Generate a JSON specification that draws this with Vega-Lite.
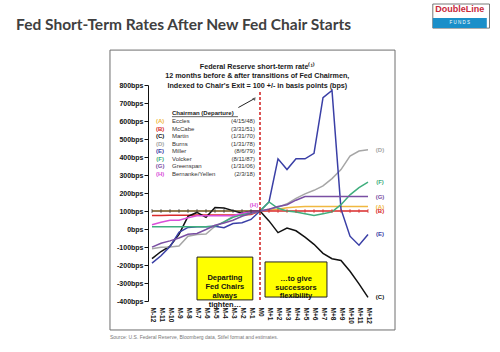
{
  "$schema": "https://vega.github.io/schema/vega-lite/v6.json",
  "width": 216,
  "height": 216,
  "autosize": {"type": "none"},
  "padding": {"left": 152, "top": 85, "right": 132, "bottom": 51},
  "background": "white",
  "config": {
    "view": {"stroke": null},
    "font": "Liberation Sans",
    "axis": {"zindex": 1, "grid": false, "title": null},
    "axisX": {"tickCount": 50, "offset": 5, "domain": false, "ticks": false, "labelAngle": 90, "labelAlign": "left", "labelBaseline": "middle", "labelFontSize": 6.5, "labelFontWeight": "bold", "labelColor": "#111", "labelPadding": 1, "labelOverlap": false, "labelBound": false, "labelFlush": false},
    "axisY": {"tickCount": 50, "offset": 4, "labelFontSize": 7, "labelFontWeight": "bold", "labelColor": "#111", "domainColor": "#111", "tickColor": "#111", "tickSize": 4, "labelPadding": 1, "labelOverlap": false}
  },
  "datasets": {
    "series": [
      {"c":"A","m":-12,"v":100},{"c":"A","m":-11,"v":100},{"c":"A","m":-10,"v":100},{"c":"A","m":-9,"v":100},{"c":"A","m":-8,"v":100},{"c":"A","m":-7,"v":100},{"c":"A","m":-6,"v":100},{"c":"A","m":-5,"v":100},{"c":"A","m":-4,"v":100},{"c":"A","m":-3,"v":100},{"c":"A","m":-2,"v":100},{"c":"A","m":-1,"v":100},{"c":"A","m":0,"v":100},
      {"c":"A","m":1,"v":105},{"c":"A","m":2,"v":110},{"c":"A","m":3,"v":118},{"c":"A","m":4,"v":122},{"c":"A","m":5,"v":125},{"c":"A","m":6,"v":125},{"c":"A","m":7,"v":125},{"c":"A","m":8,"v":125},{"c":"A","m":9,"v":125},{"c":"A","m":10,"v":125},{"c":"A","m":11,"v":125},{"c":"A","m":12,"v":125},
      {"c":"B","m":-12,"v":75},{"c":"B","m":-11,"v":75},{"c":"B","m":-10,"v":76},{"c":"B","m":-9,"v":76},{"c":"B","m":-8,"v":77},{"c":"B","m":-7,"v":78},{"c":"B","m":-6,"v":78},{"c":"B","m":-5,"v":78},{"c":"B","m":-4,"v":78},{"c":"B","m":-3,"v":78},{"c":"B","m":-2,"v":78},{"c":"B","m":-1,"v":80},{"c":"B","m":0,"v":100},
      {"c":"B","m":1,"v":100},{"c":"B","m":2,"v":100},{"c":"B","m":3,"v":100},{"c":"B","m":4,"v":100},{"c":"B","m":5,"v":100},{"c":"B","m":6,"v":100},{"c":"B","m":7,"v":100},{"c":"B","m":8,"v":100},{"c":"B","m":9,"v":100},{"c":"B","m":10,"v":100},{"c":"B","m":11,"v":100},{"c":"B","m":12,"v":100},
      {"c":"C","m":-12,"v":-165},{"c":"C","m":-11,"v":-125},{"c":"C","m":-10,"v":-95},{"c":"C","m":-9,"v":-30},{"c":"C","m":-8,"v":70},{"c":"C","m":-7,"v":92},{"c":"C","m":-6,"v":65},{"c":"C","m":-5,"v":120},{"c":"C","m":-4,"v":117},{"c":"C","m":-3,"v":102},{"c":"C","m":-2,"v":88},{"c":"C","m":-1,"v":98},{"c":"C","m":0,"v":100},
      {"c":"C","m":1,"v":45},{"c":"C","m":2,"v":-20},{"c":"C","m":3,"v":5},{"c":"C","m":4,"v":-10},{"c":"C","m":5,"v":-45},{"c":"C","m":6,"v":-85},{"c":"C","m":7,"v":-135},{"c":"C","m":8,"v":-165},{"c":"C","m":9,"v":-175},{"c":"C","m":10,"v":-235},{"c":"C","m":11,"v":-305},{"c":"C","m":12,"v":-380},
      {"c":"D","m":-12,"v":-110},{"c":"D","m":-11,"v":-102},{"c":"D","m":-10,"v":-100},{"c":"D","m":-9,"v":-95},{"c":"D","m":-8,"v":-40},{"c":"D","m":-7,"v":-30},{"c":"D","m":-6,"v":-28},{"c":"D","m":-5,"v":15},{"c":"D","m":-4,"v":40},{"c":"D","m":-3,"v":70},{"c":"D","m":-2,"v":80},{"c":"D","m":-1,"v":86},{"c":"D","m":0,"v":100},
      {"c":"D","m":1,"v":110},{"c":"D","m":2,"v":120},{"c":"D","m":3,"v":140},{"c":"D","m":4,"v":170},{"c":"D","m":5,"v":195},{"c":"D","m":6,"v":215},{"c":"D","m":7,"v":240},{"c":"D","m":8,"v":280},{"c":"D","m":9,"v":330},{"c":"D","m":10,"v":405},{"c":"D","m":11,"v":433},{"c":"D","m":12,"v":440},
      {"c":"E","m":-12,"v":-190},{"c":"E","m":-11,"v":-149},{"c":"E","m":-10,"v":-98},{"c":"E","m":-9,"v":-18},{"c":"E","m":-8,"v":9},{"c":"E","m":-7,"v":13},{"c":"E","m":-6,"v":12},{"c":"E","m":-5,"v":15},{"c":"E","m":-4,"v":7},{"c":"E","m":-3,"v":30},{"c":"E","m":-2,"v":35},{"c":"E","m":-1,"v":53},{"c":"E","m":0,"v":100},
      {"c":"E","m":1,"v":150},{"c":"E","m":2,"v":390},{"c":"E","m":3,"v":330},{"c":"E","m":4,"v":390},{"c":"E","m":5,"v":390},{"c":"E","m":6,"v":420},{"c":"E","m":7,"v":730},{"c":"E","m":8,"v":770},{"c":"E","m":9,"v":110},{"c":"E","m":10,"v":-40},{"c":"E","m":11,"v":-90},{"c":"E","m":12,"v":-30},
      {"c":"F","m":-12,"v":12},{"c":"F","m":-11,"v":12},{"c":"F","m":-10,"v":12},{"c":"F","m":-9,"v":12},{"c":"F","m":-8,"v":12},{"c":"F","m":-7,"v":12},{"c":"F","m":-6,"v":12},{"c":"F","m":-5,"v":15},{"c":"F","m":-4,"v":40},{"c":"F","m":-3,"v":65},{"c":"F","m":-2,"v":80},{"c":"F","m":-1,"v":90},{"c":"F","m":0,"v":100},
      {"c":"F","m":1,"v":150},{"c":"F","m":2,"v":115},{"c":"F","m":3,"v":100},{"c":"F","m":4,"v":95},{"c":"F","m":5,"v":85},{"c":"F","m":6,"v":75},{"c":"F","m":7,"v":85},{"c":"F","m":8,"v":95},{"c":"F","m":9,"v":135},{"c":"F","m":10,"v":190},{"c":"F","m":11,"v":230},{"c":"F","m":12,"v":260},
      {"c":"G","m":-12,"v":-101},{"c":"G","m":-11,"v":-79},{"c":"G","m":-10,"v":-66},{"c":"G","m":-9,"v":-50},{"c":"G","m":-8,"v":-29},{"c":"G","m":-7,"v":-25},{"c":"G","m":-6,"v":-3},{"c":"G","m":-5,"v":21},{"c":"G","m":-4,"v":33},{"c":"G","m":-3,"v":49},{"c":"G","m":-2,"v":71},{"c":"G","m":-1,"v":87},{"c":"G","m":0,"v":100},
      {"c":"G","m":1,"v":110},{"c":"G","m":2,"v":125},{"c":"G","m":3,"v":135},{"c":"G","m":4,"v":160},{"c":"G","m":5,"v":180},{"c":"G","m":6,"v":180},{"c":"G","m":7,"v":180},{"c":"G","m":8,"v":180},{"c":"G","m":9,"v":180},{"c":"G","m":10,"v":180},{"c":"G","m":11,"v":180},{"c":"G","m":12,"v":180},
      {"c":"H","m":-12,"v":24},{"c":"H","m":-11,"v":37},{"c":"H","m":-10,"v":48},{"c":"H","m":-9,"v":49},{"c":"H","m":-8,"v":62},{"c":"H","m":-7,"v":73},{"c":"H","m":-6,"v":74},{"c":"H","m":-5,"v":73},{"c":"H","m":-4,"v":73},{"c":"H","m":-3,"v":74},{"c":"H","m":-2,"v":88},{"c":"H","m":-1,"v":99},{"c":"H","m":0,"v":100}
    ],
    "chairs": [
      {"c":"A","n":"Eccles","d":"(4/15/48)","o":0},
      {"c":"B","n":"McCabe","d":"(3/31/51)","o":1},
      {"c":"C","n":"Martin","d":"(1/31/70)","o":2},
      {"c":"D","n":"Burns","d":"(1/31/78)","o":3},
      {"c":"E","n":"Miller","d":"(8/6/79)","o":4},
      {"c":"F","n":"Volcker","d":"(8/11/87)","o":5},
      {"c":"G","n":"Greenspan","d":"(1/31/06)","o":6},
      {"c":"H","n":"Bernanke/Yellen","d":"(2/3/18)","o":7}
    ]
  },
  "layer": [
    {
      "data": {"name": "series"},
      "mark": {"type": "line", "strokeWidth": 1.5},
      "encoding": {
        "x": {"field": "m", "type": "quantitative", "scale": {"domain": [-12, 12], "nice": false, "zero": false},
          "axis": {"orient": "bottom", "tickCount": 50, "values": [-12,-11,-10,-9,-8,-7,-6,-5,-4,-3,-2,-1,0,1,2,3,4,5,6,7,8,9,10,11,12],
            "labelExpr": "datum.value == 0 ? 'M0' : (datum.value > 0 ? 'M+' + datum.value : 'M' + datum.value)"}},
        "y": {"field": "v", "type": "quantitative", "scale": {"domain": [-400, 800], "nice": false, "zero": false},
          "axis": {"tickCount": 50, "values": [-400,-300,-200,-100,0,100,200,300,400,500,600,700,800], "labelExpr": "datum.value + 'bps'"}},
        "color": {"field": "c", "type": "nominal", "legend": null,
          "scale": {"domain": ["A","B","C","D","E","F","G","H"], "range": ["#f0b840","#d92b2b","#111111","#a6a6a6","#3a3fa6","#3fae7d","#7a4fa3","#d94fd9"]}}
      }
    },
    {
      "data": {"values": [{}]},
      "mark": {"type": "rect", "fill": "transparent", "stroke": "#6e6e6e", "strokeWidth": 1},
      "encoding": {"x": {"datum": -16.67}, "x2": {"datum": 15}, "y": {"datum": 994}, "y2": {"datum": -561}}
    },
    {
      "data": {"values": [{}]},
      "mark": {"type": "rect", "fill": "#ffff00", "stroke": "#222", "strokeWidth": 1},
      "encoding": {"x": {"datum": -7}, "x2": {"datum": -0.8}, "y": {"datum": -156}, "y2": {"datum": -394}}
    },
    {
      "data": {"values": [{}]},
      "mark": {"type": "rect", "fill": "#ffff00", "stroke": "#222", "strokeWidth": 1},
      "encoding": {"x": {"datum": 0.56}, "x2": {"datum": 7.44}, "y": {"datum": -183}, "y2": {"datum": -378}}
    },
    {
      "data": {"values": [{}]},
      "mark": {"type": "text", "text": ["Departing", "Fed Chairs", "always", "tighten…"], "lineHeight": 9, "fontSize": 7.5, "fontWeight": "bold", "align": "center", "baseline": "middle", "color": "#111"},
      "encoding": {"x": {"datum": -3.9}, "y": {"datum": -272}}
    },
    {
      "data": {"values": [{}]},
      "mark": {"type": "text", "text": ["…to give", "successors", "flexibility"], "lineHeight": 8.7, "fontSize": 7.5, "fontWeight": "bold", "align": "center", "baseline": "middle", "color": "#111"},
      "encoding": {"x": {"datum": 4}, "y": {"datum": -278}}
    },
    {
      "data": {"values": [{}]},
      "mark": {"type": "rule", "color": "#d42a2a", "strokeWidth": 1.6, "strokeDash": [3, 2]},
      "encoding": {"x": {"datum": 0}, "y": {"datum": 761}, "y2": {"datum": -400}}
    },
    {
      "data": {"values": [{}]},
      "mark": {"type": "rule", "color": "#333", "strokeWidth": 1.2},
      "encoding": {"x": {"datum": -12}, "x2": {"datum": 0}, "y": {"datum": 100}}
    },
    {
      "data": {"name": "series"},
      "transform": [{"filter": "datum.c == 'B'"}],
      "mark": {"type": "tick", "orient": "vertical", "size": 4, "thickness": 1},
      "encoding": {
        "x": {"field": "m", "type": "quantitative"},
        "y": {"datum": 100},
        "color": {"condition": {"test": "datum.m <= 0", "value": "#333"}, "value": "#d92b2b"}
      }
    },
    {
      "data": {"name": "series"},
      "transform": [{"filter": "datum.m == 12"}, {"calculate": "'(' + datum.c + ')'", "as": "lbl"}],
      "mark": {"type": "text", "dx": 12, "fontSize": 6, "fontWeight": "bold", "align": "center", "baseline": "middle"},
      "encoding": {
        "x": {"field": "m", "type": "quantitative"},
        "y": {"field": "v", "type": "quantitative"},
        "text": {"field": "lbl"},
        "color": {"field": "c", "type": "nominal", "legend": null}
      }
    },
    {
      "data": {"name": "series"},
      "transform": [{"filter": "datum.c == 'H' && datum.m == 0"}, {"calculate": "'(' + datum.c + ')'", "as": "lbl"}],
      "mark": {"type": "text", "dx": -6, "dy": -6, "fontSize": 6, "fontWeight": "bold", "align": "center", "baseline": "middle"},
      "encoding": {
        "x": {"field": "m", "type": "quantitative"},
        "y": {"field": "v", "type": "quantitative"},
        "text": {"field": "lbl"},
        "color": {"field": "c", "type": "nominal", "legend": null}
      }
    },
    {
      "data": {"values": [{}]},
      "mark": {"type": "text", "text": "Chairman (Departure)", "fontSize": 6, "fontWeight": "bold", "align": "left", "baseline": "middle", "color": "#222"},
      "encoding": {"x": {"datum": -9.78}, "y": {"datum": 644}}
    },
    {
      "data": {"values": [{}]},
      "mark": {"type": "rule", "color": "#222", "strokeWidth": 0.7},
      "encoding": {"x": {"datum": -9.78}, "x2": {"datum": -2.45}, "y": {"datum": 624}}
    },
    {
      "data": {"name": "chairs"},
      "transform": [{"calculate": "600 - 42 * datum.o", "as": "ly"}, {"calculate": "'(' + datum.c + ')'", "as": "lbl"}],
      "layer": [
        {
          "mark": {"type": "text", "fontSize": 6, "fontWeight": "bold", "align": "center", "baseline": "middle"},
          "encoding": {"x": {"datum": -11.1}, "y": {"field": "ly", "type": "quantitative"}, "text": {"field": "lbl"}, "color": {"field": "c", "type": "nominal", "legend": null}}
        },
        {
          "mark": {"type": "text", "fontSize": 6, "align": "left", "baseline": "middle", "color": "#333"},
          "encoding": {"x": {"datum": -9.78}, "y": {"field": "ly", "type": "quantitative"}, "text": {"field": "n"}}
        },
        {
          "mark": {"type": "text", "fontSize": 6, "align": "right", "baseline": "middle", "color": "#333"},
          "encoding": {"x": {"datum": -0.56}, "y": {"field": "ly", "type": "quantitative"}, "text": {"field": "d"}}
        }
      ]
    },
    {
      "data": {"values": [{}]},
      "mark": {"type": "text", "text": ["Federal Reserve short-term rate⁽¹⁾", "12 months before & after transitions of Fed Chairmen,", "Indexed to Chair's Exit = 100 +/- in basis points (bps)"], "lineHeight": 9.3, "fontSize": 7.2, "fontWeight": "bold", "align": "center", "baseline": "middle", "color": "#1a1a1a"},
      "encoding": {"x": {"datum": -0.3}, "y": {"datum": 900}}
    },
    {
      "data": {"values": [{}]},
      "mark": {"type": "rule", "color": "#222", "strokeWidth": 1},
      "encoding": {"x": {"datum": -2.4}, "x2": {"datum": -0.7}, "y": {"datum": 675}, "y2": {"datum": 722}}
    },
    {
      "data": {"values": [{}]},
      "mark": {"type": "point", "shape": "triangle-up", "size": 14, "filled": true, "color": "#222", "angle": 40},
      "encoding": {"x": {"datum": -0.6}, "y": {"datum": 725}}
    },
    {
      "data": {"values": [{}]},
      "mark": {"type": "text", "text": "Source: U.S. Federal Reserve, Bloomberg data, Stifel format and estimates.", "fontSize": 5, "align": "left", "baseline": "middle", "color": "#777"},
      "encoding": {"x": {"datum": -16.67}, "y": {"datum": -600}}
    },
    {
      "data": {"values": [{}]},
      "mark": {"type": "text", "text": "Fed Short-Term Rates After New Fed Chair Starts", "font": "Lato", "fontSize": 15.5, "fontWeight": "bold", "align": "left", "baseline": "alphabetic", "color": "#404040"},
      "encoding": {"x": {"datum": -27.1}, "y": {"datum": 1105}}
    },
    {
      "data": {"values": [{}]},
      "mark": {"type": "rect", "fill": "white", "stroke": "#555", "strokeWidth": 0.8},
      "encoding": {"x": {"datum": 19.2}, "x2": {"datum": 25.5}, "y": {"datum": 1250}, "y2": {"datum": 1116}}
    },
    {
      "data": {"values": [{}]},
      "mark": {"type": "rect", "fill": "#1b8fc9"},
      "encoding": {"x": {"datum": 19.2}, "x2": {"datum": 25.2}, "y": {"datum": 1172}, "y2": {"datum": 1117}}
    },
    {
      "data": {"values": [{}]},
      "mark": {"type": "text", "text": "DoubleLine", "fontSize": 9, "fontWeight": "bold", "align": "center", "baseline": "middle", "color": "#c8283a"},
      "encoding": {"x": {"datum": 22.2}, "y": {"datum": 1222}}
    },
    {
      "data": {"values": [{}]},
      "mark": {"type": "text", "text": "F U N D S", "fontSize": 4.5, "align": "center", "baseline": "middle", "color": "white", "letterSpacing": 2},
      "encoding": {"x": {"datum": 22.2}, "y": {"datum": 1142}}
    }
  ]
}
